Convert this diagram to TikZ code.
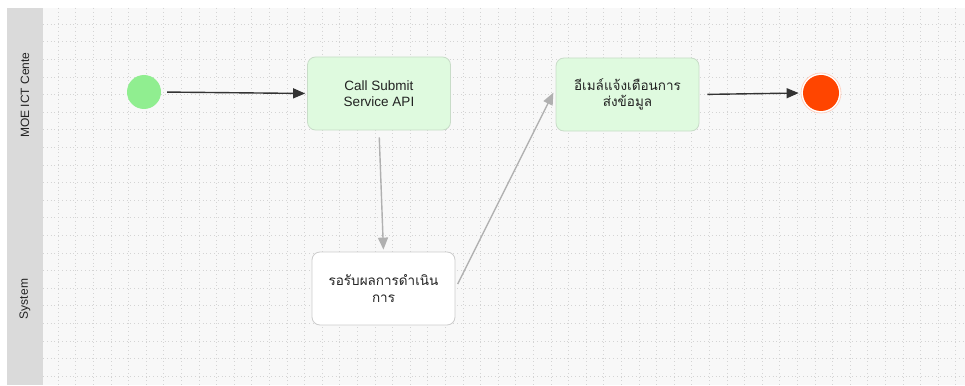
\documentclass[tikz,border=0pt]{standalone}
\usepackage{fontspec}
\setmainfont{Liberation Sans}
\newfontfamily\thaifont[Script=Thai]{Loma}
\usetikzlibrary{arrows.meta}
\definecolor{bgc}{HTML}{F8F8F8}
\definecolor{headc}{HTML}{DADADA}
\definecolor{gridc}{HTML}{D4D4D4}
\definecolor{boxgreen}{HTML}{DFFADF}
\definecolor{boxgreenb}{HTML}{C8DCC8}
\definecolor{boxwhiteb}{HTML}{CCCCCC}
\definecolor{startc}{HTML}{90EE90}
\definecolor{endc}{HTML}{FF4500}
\definecolor{ringc}{HTML}{FFD2C2}
\definecolor{darkline}{HTML}{333333}
\definecolor{lightline}{HTML}{B0B0B0}
\definecolor{textc}{HTML}{222222}
\tikzset{
  actbox/.style={rectangle, rounded corners=8pt, minimum width=143pt, minimum height=73pt,
    inner sep=2pt, align=center, text=textc, font=\fontsize{13.5}{16.5}\selectfont, line width=0.8pt},
  greenbox/.style={actbox, fill=boxgreen, draw=boxgreenb},
  whitebox/.style={actbox, fill=white, draw=boxwhiteb},
  darkflow/.style={draw=darkline, line width=1.4pt, -{Triangle[length=12pt,width=10pt]}},
  lightflow/.style={draw=lightline, line width=1.4pt, -{Triangle[length=12pt,width=10pt]}},
  lanelabel/.style={rotate=90, font=\fontsize{12}{14}\selectfont, text=textc}
}
\begin{document}
\begin{tikzpicture}[x=1pt,y=-1pt]
\useasboundingbox (0,0) rectangle (965,385);
\fill[white] (0,0) rectangle (965,385);
% lane background
\fill[bgc] (7,8) rectangle (965,385);
% dotted grid
\foreach \gx in {58,75.6,...,965} {
  \draw[gridc, line width=0.5pt, dash pattern=on 0.6pt off 3.2pt] (\gx,8) -- (\gx,385);
}
\foreach \gy in {24,41.6,...,385} {
  \draw[gridc, line width=0.5pt, dash pattern=on 0.6pt off 3.2pt] (43,\gy) -- (965,\gy);
}
% lane header column
\fill[headc] (7,8) rectangle (43,385);
\node[lanelabel] (lane1) at (25,95) {MOE ICT Cente};
\node[lanelabel] (lane2) at (25,299) {System};
% nodes
\node[circle, minimum size=34pt, inner sep=0pt, fill=startc] (start) at (144,92) {};
\node[greenbox] (call) at (379,93.5) {Call Submit\\Service API};
\node[greenbox, font=\thaifont\fontsize{13.5}{16.5}\selectfont] (notify) at (627.5,94.5) {อีเมล์แจ้งเตือนการ\\ส่งข้อมูล};
\node[whitebox, font=\thaifont\fontsize{13.5}{16.5}\selectfont] (wait) at (383.5,288.5) {รอรับผลการดำเนิน\\การ};
\node[circle, minimum size=40pt, inner sep=0pt, fill=white, draw=ringc, line width=0.8pt] (stop) at (821,93) {};
\node[circle, minimum size=36pt, inner sep=0pt, fill=endc] (stopcore) at (stop.center) {};
% connectors
\draw[darkflow, shorten <=6pt, shorten >=2pt] (start.east) -- (call.west);
\draw[lightflow, shorten <=7pt, shorten >=2pt] (call.south) -- (wait.north);
\draw[lightflow, shorten <=5pt, shorten >=5pt] (wait.east) -- (notify.175);
\draw[darkflow, shorten <=8pt, shorten >=2pt] (notify.east) -- (stop.west);
\end{tikzpicture}
\end{document}
